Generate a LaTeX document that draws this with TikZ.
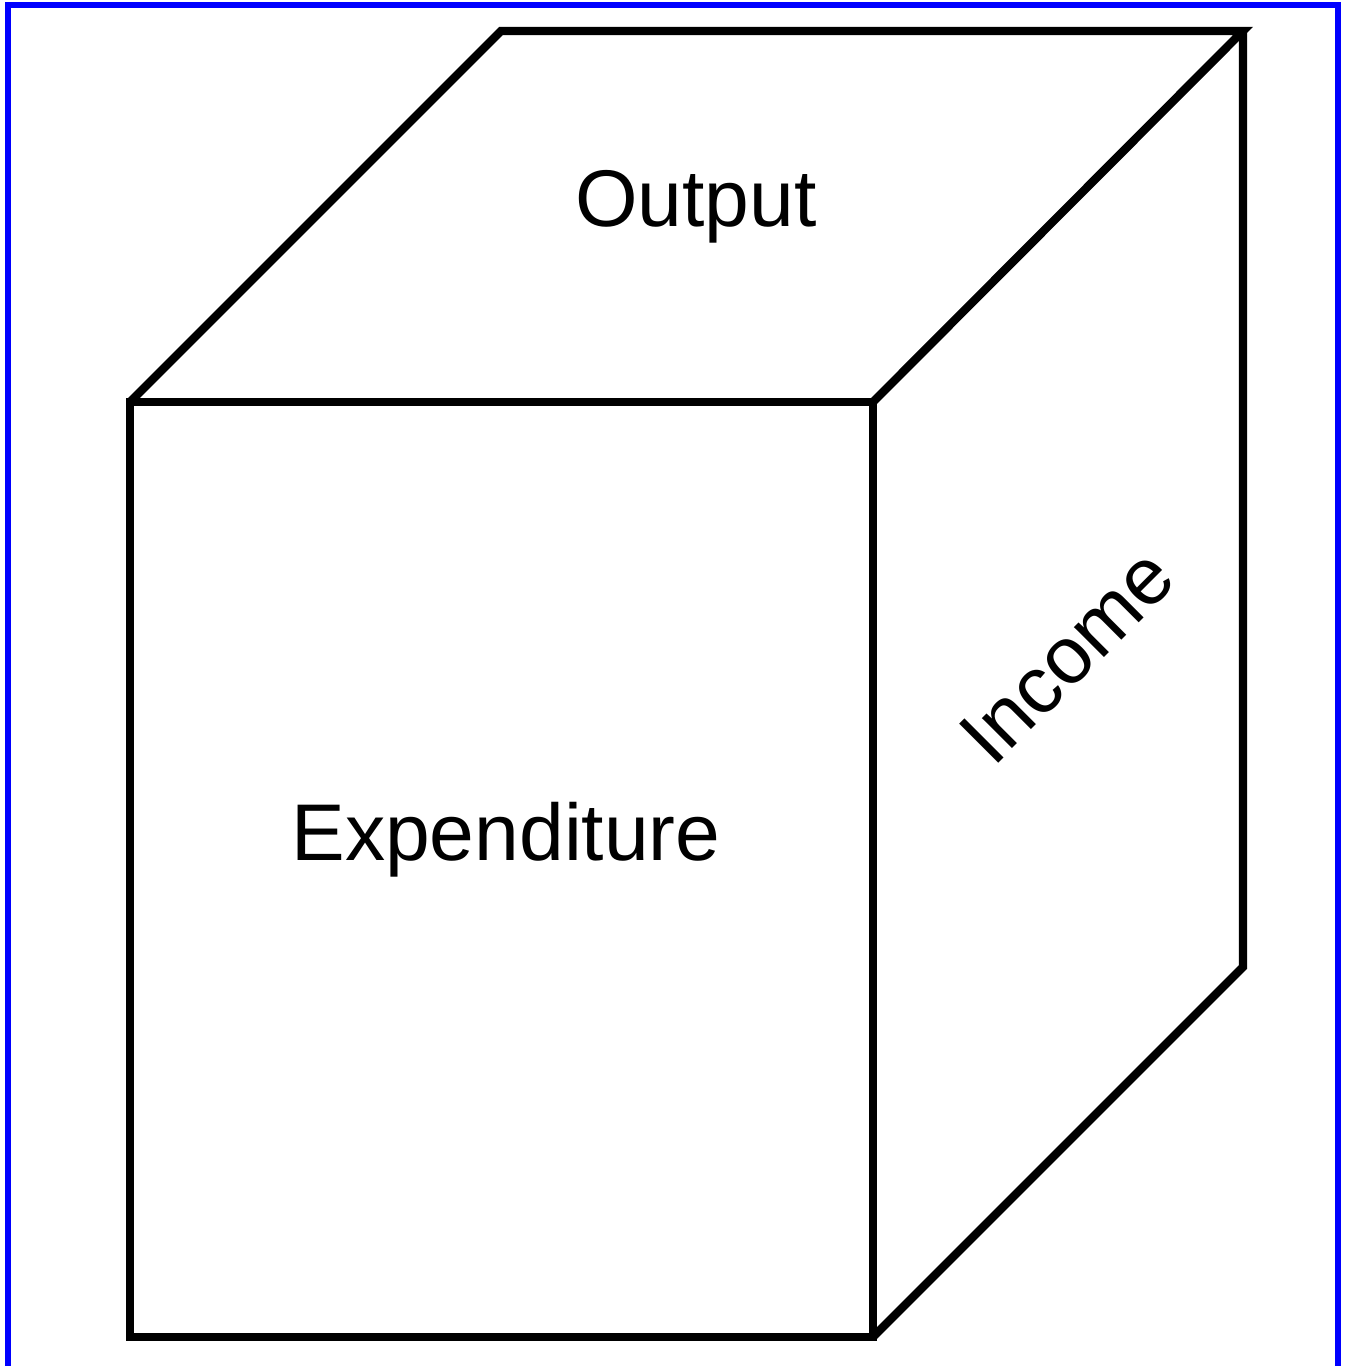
\documentclass[tikz,border=0pt]{standalone}
\usepackage{fontspec}
\setmainfont{Liberation Sans}
\begin{document}
\begin{tikzpicture}[x=0.5pt,y=-0.5pt,
  edge/.style={line width=4.2pt,line join=miter},
  face/.style={font=\fontsize{40.2}{48}\selectfont,inner sep=0pt}]
\useasboundingbox (0,0) rectangle (1348,1366);
\draw[blue,line width=3pt] (8,1372) -- (8,5) -- (1338,5) -- (1338,1372);
% front face
\coordinate (fa) at (130,402);
\coordinate (fb) at (873,402);
\coordinate (fc) at (873,1337);
\coordinate (fd) at (130,1337);
% back corners
\coordinate (ba) at (501,31);
\coordinate (bb) at (1243,31);
\coordinate (bc) at (1243,967);
\draw[edge] (fa) -- (fb) -- (fc) -- (fd) -- cycle;
\draw[edge] (fa) -- (ba) -- (bb) -- (fb);
\draw[edge] (bb) -- (bc) -- (fc);
\node[face,anchor=base] (output) at (696,226) {Output};
\node[face,anchor=base] (expend) at (506,860) {Expenditure};
\node[face,rotate=45] (income) at (1067,656) {Income};
\end{tikzpicture}
\end{document}
